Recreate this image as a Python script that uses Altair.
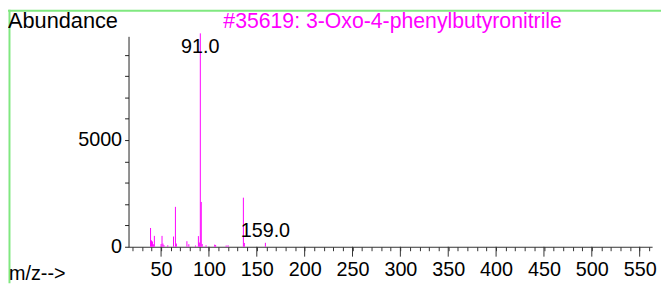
import altair as alt
import pandas as pd

# spectrum peaks (m/z, abundance)
mz = [39, 40, 41, 42, 43, 50, 51, 52, 53, 57, 63, 65, 66, 77, 79, 86, 89, 90,
      91, 92, 93, 97, 106, 107, 118, 120, 136, 137, 159]
abundance = [880, 300, 250, 120, 510, 130, 510, 150, 80, 70, 480, 1870, 150,
             260, 120, 60, 500, 200, 10000, 2100, 130, 70, 100, 80, 60, 70,
             2300, 180, 185]

label_mz = [91, 159]
label_text = ["91.0", "159.0"]
label_abund = [10000, 185]

x_minor = list(range(20, 561, 10))
x_major = list(range(50, 551, 50))
y_ticks = list(range(0, 9001, 1000))

title_text = "#35619: 3-Oxo-4-phenylbutyronitrile"
y_title = "Abundance"
x_title = "m/z-->"

FONT = "Liberation Sans"
MAG = "#FF00FF"
GREEN = "#80E880"
W, H = 530, 213

df = pd.DataFrame({"mz": mz, "abundance": abundance, "base": [0] * len(mz)})
lab = pd.DataFrame({"mz": label_mz, "t": label_text, "abundance": label_abund})

xs = alt.Scale(domain=[16, 563], nice=False, zero=False)
ys = alt.Scale(domain=[0, 9860], nice=False, zero=True)

x_axis = alt.Axis(values=x_minor, tickSize=4, format="d",
                  labelExpr="datum.value % 50 == 0 ? datum.label : ''",
                  labelFlush=False, labelOverlap=False, grid=False, labelPadding=9,
                  domainColor="#333", tickColor="#333", title=None)
y_axis = alt.Axis(values=y_ticks, tickSize=4, format="d",
                  labelExpr="(datum.value == 0 || datum.value == 5000) ? datum.label : ''",
                  labelOverlap=False, grid=False, labelPadding=3,
                  domainColor="#222", tickColor="#222", title=None)

peaks = alt.Chart(df).mark_rule(color=MAG, strokeWidth=1).encode(
    x=alt.X("mz:Q", scale=xs, axis=x_axis, title=None),
    y=alt.Y("abundance:Q", scale=ys, axis=y_axis, title=None),
    y2="base:Q",
)

major = alt.Chart(pd.DataFrame({"v": x_major})).mark_rule(color="#333", strokeWidth=1).encode(
    x=alt.X("v:Q", scale=xs, axis=x_axis, title=None),
    y=alt.value(H),
    y2=alt.value(H + 10),
)

labels = alt.Chart(lab).transform_calculate(
    ly="min(datum.abundance, 8800)"
).mark_text(font=FONT, fontSize=20, baseline="bottom", dy=-2, color="black").encode(
    x=alt.X("mz:Q", scale=xs, axis=x_axis, title=None),
    y=alt.Y("ly:Q", scale=ys, axis=y_axis, title=None),
    text="t:N",
)

def txt(s, x, y, color="black", size=21):
    return alt.Chart(pd.DataFrame({"t": [s]})).mark_text(
        font=FONT, fontSize=size, align="left", baseline="alphabetic", color=color
    ).encode(text="t:N", x=alt.value(x), y=alt.value(y))

t_ab = txt(y_title, -122, -8, size=22)
t_title = txt(title_text, 96, -8, color=MAG, size=21.5)
t_mz = txt(x_title, -121, 247, size=20)

g_left = alt.Chart(pd.DataFrame({"a": [0]})).mark_rule(color=GREEN, strokeWidth=2).encode(
    x=alt.value(-120.5), y=alt.value(-27), y2=alt.value(H + 37))
g_top = alt.Chart(pd.DataFrame({"a": [0]})).mark_rule(color=GREEN, strokeWidth=2).encode(
    x=alt.value(-122), x2=alt.value(W + 9), y=alt.value(-26))

chart = alt.layer(peaks, major, labels, g_left, g_top, t_ab, t_title, t_mz).properties(
    width=W, height=H,
    autosize=alt.AutoSizeParams(type="none"),
    padding={"left": 122, "top": 27, "right": 9, "bottom": 37},
).configure_view(stroke=None).configure_axis(
    labelFont=FONT, labelFontSize=20, labelColor="black", labelOverlap=False
)

chart.save("out.html", embed_options={"renderer": "svg", "actions": False})
